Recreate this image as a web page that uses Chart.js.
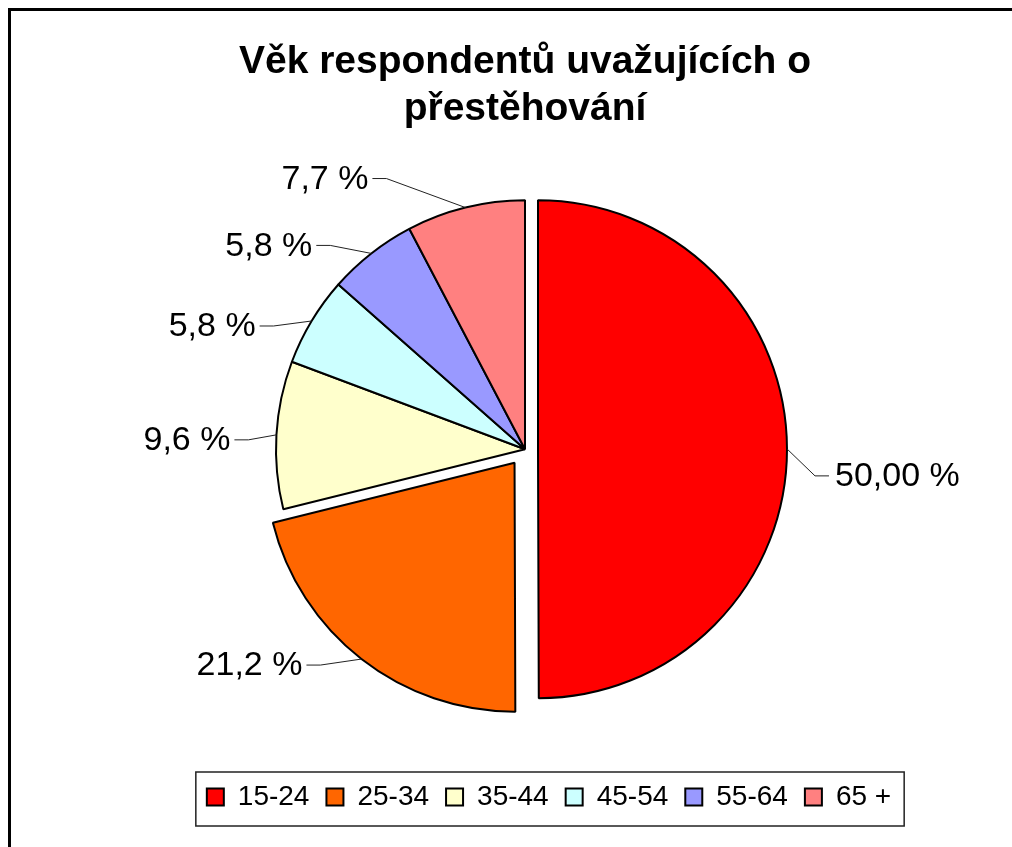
<!DOCTYPE html>
<html>
<head>
<meta charset="utf-8">
<title>Věk respondentů</title>
<script src="https://cdn.jsdelivr.net/npm/chart.js@4"></script>
<style>
  html, body { margin: 0; padding: 0; background: #fff; overflow: hidden; }
</style>
</head>
<body>
<canvas id="grafVek" width="1012" height="847"></canvas>
<script>
// data z grafu
const kategorie = ["15-24", "25-34", "35-44", "45-54", "55-64", "65 +"];
const podily = [50.0, 21.2, 9.6, 5.8, 5.8, 7.7];
const popisky = ["50,00 %", "21,2 %", "9,6 %", "5,8 %", "5,8 %", "7,7 %"];
const barvy = ["#FF0000", "#FF6600", "#FFFFCC", "#CCFFFF", "#9999FF", "#FF8080"];
const titulek = ["Věk respondentů uvažujících o", "přestěhování"];

const PISMO = "'Liberation Sans', Arial, sans-serif";
Chart.defaults.font.family = PISMO;
Chart.defaults.color = "#000";

/* ------------------------------
   ramecek kolem celeho grafu
-------------------------------*/
const ramecek = {
    id: "ramecek",
    beforeDraw(chart) {
        const c = chart.ctx;
        c.save();
        c.fillStyle = "#fff";
        c.fillRect(0, 0, chart.width, chart.height);
        c.strokeStyle = "#000";
        c.lineWidth = 3;
        c.strokeRect(9.5, 9.5, chart.width + 40, chart.height + 40);
        c.restore();
    }
};

/* ------------------------------
   vysunuti vybranych vyseci (o pixely, ve smeru stredu vysece)
-------------------------------*/
const vysunuti = {
    id: "vysunuti",
    afterDatasetUpdate(chart, args, opts) {
        args.meta.data.forEach((arc, i) => {
            const v = opts.px[i] || 0;
            if (!v) return;
            const mid = (arc.startAngle + arc.endAngle) / 2;
            arc.x += Math.cos(mid) * v;
            arc.y += Math.sin(mid) * v;
        });
    }
};

/* ------------------------------
   legenda: posun + ramecek
-------------------------------*/
const legendaBox = {
    id: "legendaBox",
    afterLayout(chart, args, opts) {
        const lg = chart.legend;
        lg.left += opts.dx;
        lg.right += opts.dx;
    },
    afterDraw(chart) {
        const hb = chart.legend.legendHitBoxes;
        if (!hb || !hb.length) return;
        const posl = hb[hb.length - 1];
        const x1 = hb[0].left - 11;
        const x2 = posl.left + posl.width + 13;
        const cy = hb[0].top + hb[0].height / 2;
        const c = chart.ctx;
        c.save();
        c.strokeStyle = "#222";
        c.lineWidth = 1.5;
        c.strokeRect(x1, cy - 25, x2 - x1, 54);
        c.restore();
    }
};

/* ------------------------------
   popisky hodnot s vodicimi carami
-------------------------------*/
const vynasecky = {
    id: "vynasecky",
    afterDatasetsDraw(chart, args, opts) {
        const meta = chart.getDatasetMeta(0);
        const c = chart.ctx;
        c.save();
        c.font = opts.font;
        c.fillStyle = "#000";
        c.strokeStyle = "#222";
        c.lineWidth = 1;
        c.textBaseline = "middle";

        meta.data.forEach((arc, i) => {
            const mid = (arc.startAngle + arc.endAngle) / 2;
            const ex = arc.x + Math.cos(mid) * arc.outerRadius;
            const ey = arc.y + Math.sin(mid) * arc.outerRadius;
            const [dx, dy] = opts.pozice[i];
            const tx = ex + dx;
            const ty = ey + dy;
            const smer = dx < 0 ? 1 : -1;

            c.beginPath();
            c.moveTo(ex, ey);
            c.lineTo(tx + smer * 14, ty);
            c.lineTo(tx, ty);
            c.stroke();

            if (smer > 0) {
                c.textAlign = "right";
                c.fillText(popisky[i], tx - 4, ty + 1);
            } else {
                c.textAlign = "left";
                c.fillText(popisky[i], tx + 6, ty + 1);
            }
        });
        c.restore();
    }
};

const ctx = document.getElementById("grafVek");

new Chart(ctx, {
    type: "pie",
    data: {
        labels: kategorie,
        datasets: [{
            data: podily,
            backgroundColor: barvy,
            borderColor: "#000",
            borderWidth: 2
        }]
    },
    options: {
        responsive: false,
        animation: false,
        events: [],
        radius: 249,
        rotation: 0,
        layout: { padding: { left: 38, right: 0, top: 0, bottom: 26 } },
        plugins: {
            title: {
                display: true,
                text: titulek,
                color: "#000",
                font: { size: 39, weight: "bold", family: PISMO, lineHeight: 1.2 },
                padding: { top: 39, bottom: 0 }
            },
            legend: {
                position: "bottom",
                labels: {
                    color: "#000",
                    font: { size: 28, family: PISMO },
                    boxWidth: 17,
                    boxHeight: 17,
                    padding: 17
                }
            },
            tooltip: { enabled: false },
            vysunuti: { px: [13, 17, 0, 0, 0, 0] },
            legendaBox: { dx: 24 },
            vynasecky: {
                font: "34px " + PISMO,
                pozice: [[42, 27], [-55, 6], [-42, 5], [-52, 5], [-55, -8], [-93, -29]]
            }
        }
    },
    plugins: [ramecek, vysunuti, legendaBox, vynasecky]
});
</script>
</body>
</html>
